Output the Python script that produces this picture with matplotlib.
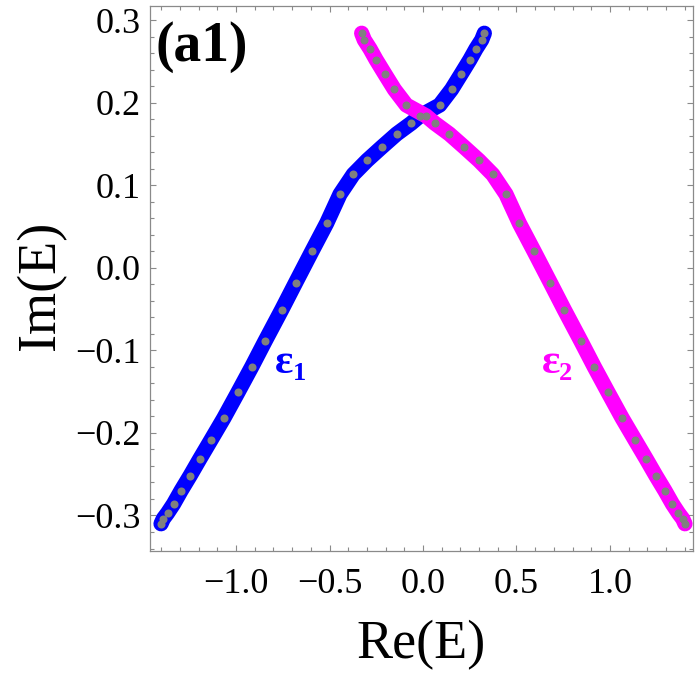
import matplotlib
matplotlib.use("Agg")
import matplotlib.pyplot as plt
from matplotlib.ticker import MultipleLocator, FuncFormatter

# ---- data ----
eps1_re = [-1.401, -1.389, -1.366, -1.334, -1.294, -1.246, -1.195, -1.135, -1.065,
           -0.990, -0.916, -0.845, -0.756, -0.681, -0.594, -0.515, -0.444, -0.373,
           -0.299, -0.221, -0.141, -0.063, -0.016, 0.089, 0.153, 0.205, 0.251,
           0.283, 0.314, 0.328]
eps1_im = [-0.310, -0.304, -0.297, -0.286, -0.270, -0.252, -0.232, -0.209, -0.182,
           -0.151, -0.120, -0.089, -0.051, -0.018, 0.020, 0.054, 0.089, 0.113,
           0.130, 0.146, 0.162, 0.175, 0.184, 0.197, 0.216, 0.235, 0.252,
           0.265, 0.276, 0.284]
eps2_re = [1.401, 1.389, 1.366, 1.334, 1.294, 1.246, 1.195, 1.135, 1.065,
           0.990, 0.916, 0.845, 0.756, 0.681, 0.594, 0.515, 0.444, 0.373,
           0.299, 0.221, 0.141, 0.063, 0.016, -0.089, -0.153, -0.205, -0.251,
           -0.283, -0.314, -0.328]
eps2_im = [-0.310, -0.304, -0.297, -0.286, -0.270, -0.252, -0.232, -0.209, -0.182,
           -0.151, -0.120, -0.089, -0.051, -0.018, 0.020, 0.054, 0.089, 0.113,
           0.130, 0.146, 0.162, 0.175, 0.184, 0.197, 0.216, 0.235, 0.252,
           0.265, 0.276, 0.284]

x_ticks = [-1.0, -0.5, 0.0, 0.5, 1.0]
y_ticks = [-0.3, -0.2, -0.1, 0.0, 0.1, 0.2, 0.3]
x_range = (-1.46, 1.444)
y_range = (-0.343, 0.317)

SERIF = "Liberation Serif"
W, H = 698, 677
fig = plt.figure(figsize=(W / 100, H / 100), dpi=100)
ax = fig.add_axes([150 / W, 1 - 551 / H, (693 - 150) / W, (551 - 6) / H])

ax.plot(eps1_re, eps1_im, color="#0000ff", lw=11, solid_capstyle="round",
        solid_joinstyle="round", zorder=2)
ax.plot(eps2_re, eps2_im, color="#ff00ff", lw=11, solid_capstyle="round",
        solid_joinstyle="round", zorder=3)
ax.plot(eps1_re, eps1_im, "o", color="#808080", ms=5.8, mew=0, zorder=4)
ax.plot(eps2_re, eps2_im, "o", color="#808080", ms=5.8, mew=0, zorder=4)

ax.set_xlim(*x_range)
ax.set_ylim(*y_range)
ax.set_xticks(x_ticks)
ax.set_yticks(y_ticks)
ax.xaxis.set_minor_locator(MultipleLocator(0.1))
ax.yaxis.set_minor_locator(MultipleLocator(0.02))
fmt = FuncFormatter(lambda v, p: ("%.1f" % v).replace("-", "\u2212") if abs(v) > 1e-9 else "0.0")
ax.xaxis.set_major_formatter(fmt)
ax.yaxis.set_major_formatter(fmt)

frame_c = "#8a8a8a"
for s in ax.spines.values():
    s.set_color(frame_c)
    s.set_linewidth(0.9)
ax.tick_params(which="both", direction="in", top=True, right=True, color=frame_c, width=0.8)
ax.tick_params(which="major", length=4.5)
ax.tick_params(which="minor", length=2.6)
ax.tick_params(axis="x", which="major", pad=12)
ax.tick_params(axis="y", which="major", pad=7)
for lab in ax.get_xticklabels() + ax.get_yticklabels():
    lab.set_fontfamily(SERIF)
    lab.set_fontsize(26)

ax.set_xlabel("Re(E)", fontfamily=SERIF, fontsize=39)
ax.xaxis.label.set_va("center")
ax.xaxis.set_label_coords(0.5, (551 - 645) / 545)
ax.set_ylabel("Im(E)", fontfamily=SERIF, fontsize=39)
ax.yaxis.label.set_va("center")
ax.yaxis.set_label_coords((41 - 150) / 543, (551 - 285) / 545)

ax.text(0.01, 0.972, "(a1)", transform=ax.transAxes, fontfamily=SERIF,
        fontweight="bold", fontsize=40, ha="left", va="top")

# curve labels
ax.text(-0.791, -0.127, "\u03b5", color="#0000ff", fontfamily=SERIF,
        fontweight="bold", fontsize=31, ha="left", va="baseline")
ax.text(-0.697, -0.136, "1", color="#0000ff", fontfamily=SERIF,
        fontweight="bold", fontsize=19, ha="left", va="baseline")
ax.text(0.635, -0.127, "\u03b5", color="#ff00ff", fontfamily=SERIF,
        fontweight="bold", fontsize=31, ha="left", va="baseline")
ax.text(0.729, -0.136, "2", color="#ff00ff", fontfamily=SERIF,
        fontweight="bold", fontsize=19, ha="left", va="baseline")

fig.savefig("out.png", dpi=100)
